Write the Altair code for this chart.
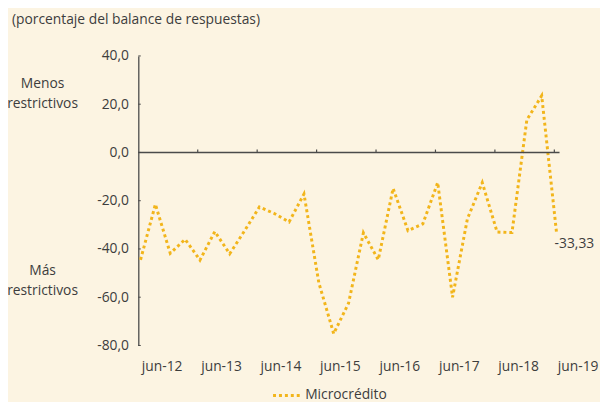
import altair as alt
import pandas as pd

# ---- data ----
quarters = list(range(29))
microcredito = [-44.5, -21.5, -41.8, -36.0, -44.6, -32.8, -42.0, -32.5, -22.6, -25.3,
                -28.8, -17.2, -54.0, -75.1, -62.5, -33.3, -44.5, -14.9, -32.4, -29.6,
                -12.5, -60.0, -27.5, -12.5, -33.0, -33.2, 13.5, 23.5, -33.33]
year_labels = ["jun-12", "jun-13", "jun-14", "jun-15", "jun-16", "jun-17", "jun-18", "jun-19"]
year_ticks = [-0.15 + 4 * k for k in range(8)]
y_ticks = [-80, -60, -40, -20, 0, 20, 40]
series_name = "Microcrédito"
last_label = "-33,33"
annotations = ["Menos\nrestrictivos", "Más\nrestrictivos"]
annotation_y = [28.4, -49.3]

FONT = "Open Sans"
TXT = "#3d3d3d"
AXC = "#4a4a4a"
LINE = "#F2B51B"
BG = "#FCF4E2"
W, H = 426.7, 293.3

df = pd.DataFrame({"q": quarters, "v": microcredito, "serie": series_name})
xscale = alt.Scale(domain=[-0.15, 28.2], nice=False, zero=False)
yscale = alt.Scale(domain=[-80, 40], nice=False, zero=False)

label_arr = "[" + ",".join("'" + s + "'" for s in year_labels) + "]"

XAXIS = alt.Axis(
    values=year_ticks, labelExpr=label_arr + "[round((datum.value + 0.15) / 4)]",
    ticks=False, domain=False, grid=False, labelAlign="left", labelOffset=3,
    labelPadding=14, title=None, labelFontSize=14, labelFont=FONT, labelColor=TXT,
    labelOverlap=False, labelFlush=False, labelBound=False)
YAXIS = alt.Axis(
    values=y_ticks,
    labelExpr="(datum.value < 0 ? '-' : '') + replace(format(abs(datum.value), '.1f'), '.', ',')",
    ticks=False, grid=False, domain=True, domainColor=AXC, domainWidth=1.3,
    labelPadding=10, title=None, labelFontSize=14, labelFont=FONT, labelColor=TXT)

line = alt.Chart(df).mark_line(strokeWidth=3, strokeDash=[3, 3], strokeJoin="miter").encode(
    x=alt.X("q:Q", scale=xscale, axis=XAXIS),
    y=alt.Y("v:Q", scale=yscale, axis=YAXIS),
    color=alt.Color("serie:N", scale=alt.Scale(range=[LINE]), legend=alt.Legend(
        title=None, orient="none", legendX=135, legendY=329, symbolType="stroke",
        symbolStrokeWidth=3, symbolDash=[3, 3], symbolSize=729,
        labelFontSize=14, labelFont=FONT, labelColor=TXT)),
)

zero_df = pd.DataFrame({"v": [0]})
zero = alt.Chart(zero_df).mark_rule(color=AXC, strokeWidth=1.5).encode(
    y=alt.Y("v:Q", scale=yscale, axis=YAXIS),
    x=alt.value(0), x2=alt.value(W),
)

tick_df = pd.DataFrame({"q": year_ticks[1:], "a": [0] * 7, "b": [1.2] * 7})
xt = alt.Chart(tick_df).mark_rule(color=AXC, strokeWidth=1.2).encode(
    x=alt.X("q:Q", scale=xscale, axis=XAXIS),
    y=alt.Y("a:Q", scale=yscale, axis=YAXIS), y2="b:Q",
)

ytick_df = pd.DataFrame({"v": y_ticks})
yt = alt.Chart(ytick_df).mark_rule(color=AXC, strokeWidth=1).encode(
    y=alt.Y("v:Q", scale=yscale, axis=YAXIS),
    x=alt.value(0), x2=alt.value(2.5),
)

ann_df = pd.DataFrame({"v": annotation_y, "t": annotations})
ann = alt.Chart(ann_df).mark_text(lineBreak="\n", lineHeight=20, align="center",
                                  baseline="middle", font=FONT, fontSize=14, color=TXT).encode(
    y=alt.Y("v:Q", scale=yscale, axis=YAXIS),
    x=alt.value(-97), text="t:N",
)

last_df = pd.DataFrame({"q": [quarters[-1]], "v": [microcredito[-1]], "t": [last_label]})
lastt = alt.Chart(last_df).mark_text(align="left", baseline="middle", dx=-2, dy=11,
                                     font=FONT, fontSize=14, color=TXT).encode(
    x=alt.X("q:Q", scale=xscale, axis=XAXIS),
    y=alt.Y("v:Q", scale=yscale, axis=YAXIS), text="t:N",
)

chart = alt.layer(line, zero, xt, yt, ann, lastt).properties(
    width=W, height=H,
    autosize=alt.AutoSizeParams(type="none"),
    padding={"left": 132, "top": 46, "right": 41, "bottom": 55},
    background=BG,
    title=alt.TitleParams("(porcentaje del balance de respuestas)", anchor="start", frame="group",
                          dx=-128, offset=22, fontSize=14, fontWeight="normal", font=FONT, color=TXT),
).configure_view(stroke=None)

chart.save("out.html", embed_options={"renderer": "svg", "actions": False})
